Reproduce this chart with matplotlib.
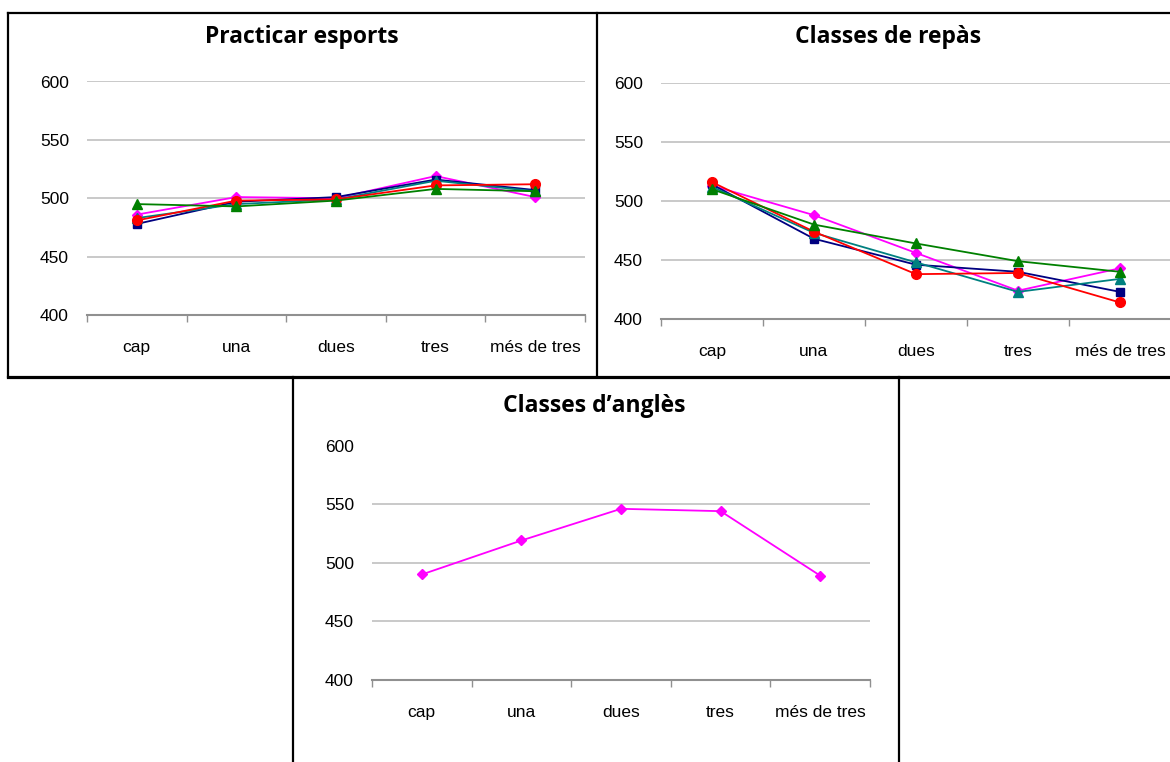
import matplotlib
matplotlib.use('Agg')
import matplotlib.pyplot as plt
from matplotlib.lines import Line2D
from matplotlib.ticker import FixedLocator, NullFormatter

W, H = 1170, 762

categories = ['cap', 'una', 'dues', 'tres', 'més de tres']
yticks = [400, 450, 500, 550, 600]

# Practicar esports
esports_magenta = [486, 501, 500, 519, 501]
esports_navy = [478, 497, 501, 516, 507]
esports_teal = [483, 495, 499, 515, 506]
esports_red = [481, 498, 499, 511, 512]
esports_green = [495, 493, 498, 508, 506]

# Classes de repàs
repas_magenta = [513, 488, 456, 424, 443]
repas_navy = [514, 468, 446, 440, 423]
repas_teal = [512, 473, 448, 423, 434]
repas_red = [516, 474, 438, 439, 414]
repas_green = [510, 480, 464, 449, 440]

# Classes d'anglès
angles_magenta = [490, 519, 546, 544, 489]

series_style = {
    'magenta': dict(color='#FF00FF', marker='D', ms=5.5),
    'navy': dict(color='#000080', marker='s', ms=6),
    'teal': dict(color='#008080', marker='^', ms=6.5),
    'red': dict(color='#FF0000', marker='o', ms=7),
    'green': dict(color='#008000', marker='^', ms=6.5),
}

fig = plt.figure(figsize=(W / 100, H / 100), dpi=100)


def px_axes(x0, x1, y_top, y_bot):
    # pixel box -> figure fraction
    return fig.add_axes([x0 / W, 1 - y_bot / H, (x1 - x0) / W, (y_bot - y_top) / H])


def style_axes(ax, title, title_xy):
    ax.set_xlim(-0.5, 4.5)
    ax.set_ylim(400, 600)
    ax.set_yticks(yticks)
    ax.set_yticklabels([str(v) for v in yticks], fontsize=12.5, family='Liberation Sans')
    ax.tick_params(axis='y', length=0, pad=13)
    ax.set_xticks(range(len(categories)))
    ax.set_xticklabels(categories, fontsize=12.5, family='Liberation Sans')
    ax.xaxis.set_minor_locator(FixedLocator([-0.5, 0.5, 1.5, 2.5, 3.5, 4.5]))
    ax.xaxis.set_minor_formatter(NullFormatter())
    ax.tick_params(axis='x', which='major', length=0, pad=18)
    ax.tick_params(axis='x', which='minor', length=5, width=1, color='#909090', direction='out')
    for s in ['top', 'right', 'left']:
        ax.spines[s].set_visible(False)
    ax.spines['bottom'].set_color('#909090')
    ax.spines['bottom'].set_linewidth(1.5)
    for v in yticks[1:]:
        ax.axhline(v, color='#C0C0C0', lw=1.2, zorder=0)
    ax.patch.set_visible(False)
    fig.text(title_xy[0] / W, 1 - title_xy[1] / H, title, ha='center', va='baseline',
             fontsize=16.5, fontweight='bold', family='Open Sans')


def draw(ax, data):
    for name, vals in data:
        st = series_style[name]
        ax.plot(range(len(categories)), vals, color=st['color'], marker=st['marker'],
                markersize=st['ms'], lw=1.3, clip_on=False)


ax1 = px_axes(87, 585, 81.5, 315)
style_axes(ax1, 'Practicar esports', (302, 43))
draw(ax1, [('magenta', esports_magenta), ('navy', esports_navy), ('teal', esports_teal),
           ('red', esports_red), ('green', esports_green)])

ax2 = px_axes(661, 1171, 83, 319)
style_axes(ax2, 'Classes de repàs', (888, 43))
draw(ax2, [('magenta', repas_magenta), ('navy', repas_navy), ('teal', repas_teal),
           ('red', repas_red), ('green', repas_green)])

ax3 = px_axes(372, 870, 445.5, 680)
style_axes(ax3, 'Classes d\u2019anglès', (594, 412))
draw(ax3, [('magenta', angles_magenta)])


def frame(x0, y0, x1, y1, lw):
    fig.add_artist(Line2D([x0 / W, x1 / W], [1 - y0 / H, 1 - y1 / H],
                          transform=fig.transFigure, color='black', lw=lw))


frame(8, 13, W, 13, 1.6)
frame(8, 13, 8, 377, 1.6)
frame(597, 13, 597, 377, 1.6)
frame(8, 377, W, 377, 2.3)
frame(293, 377, 293, H, 1.6)
frame(899, 377, 899, H, 1.6)

fig.savefig('out.png', dpi=100)
